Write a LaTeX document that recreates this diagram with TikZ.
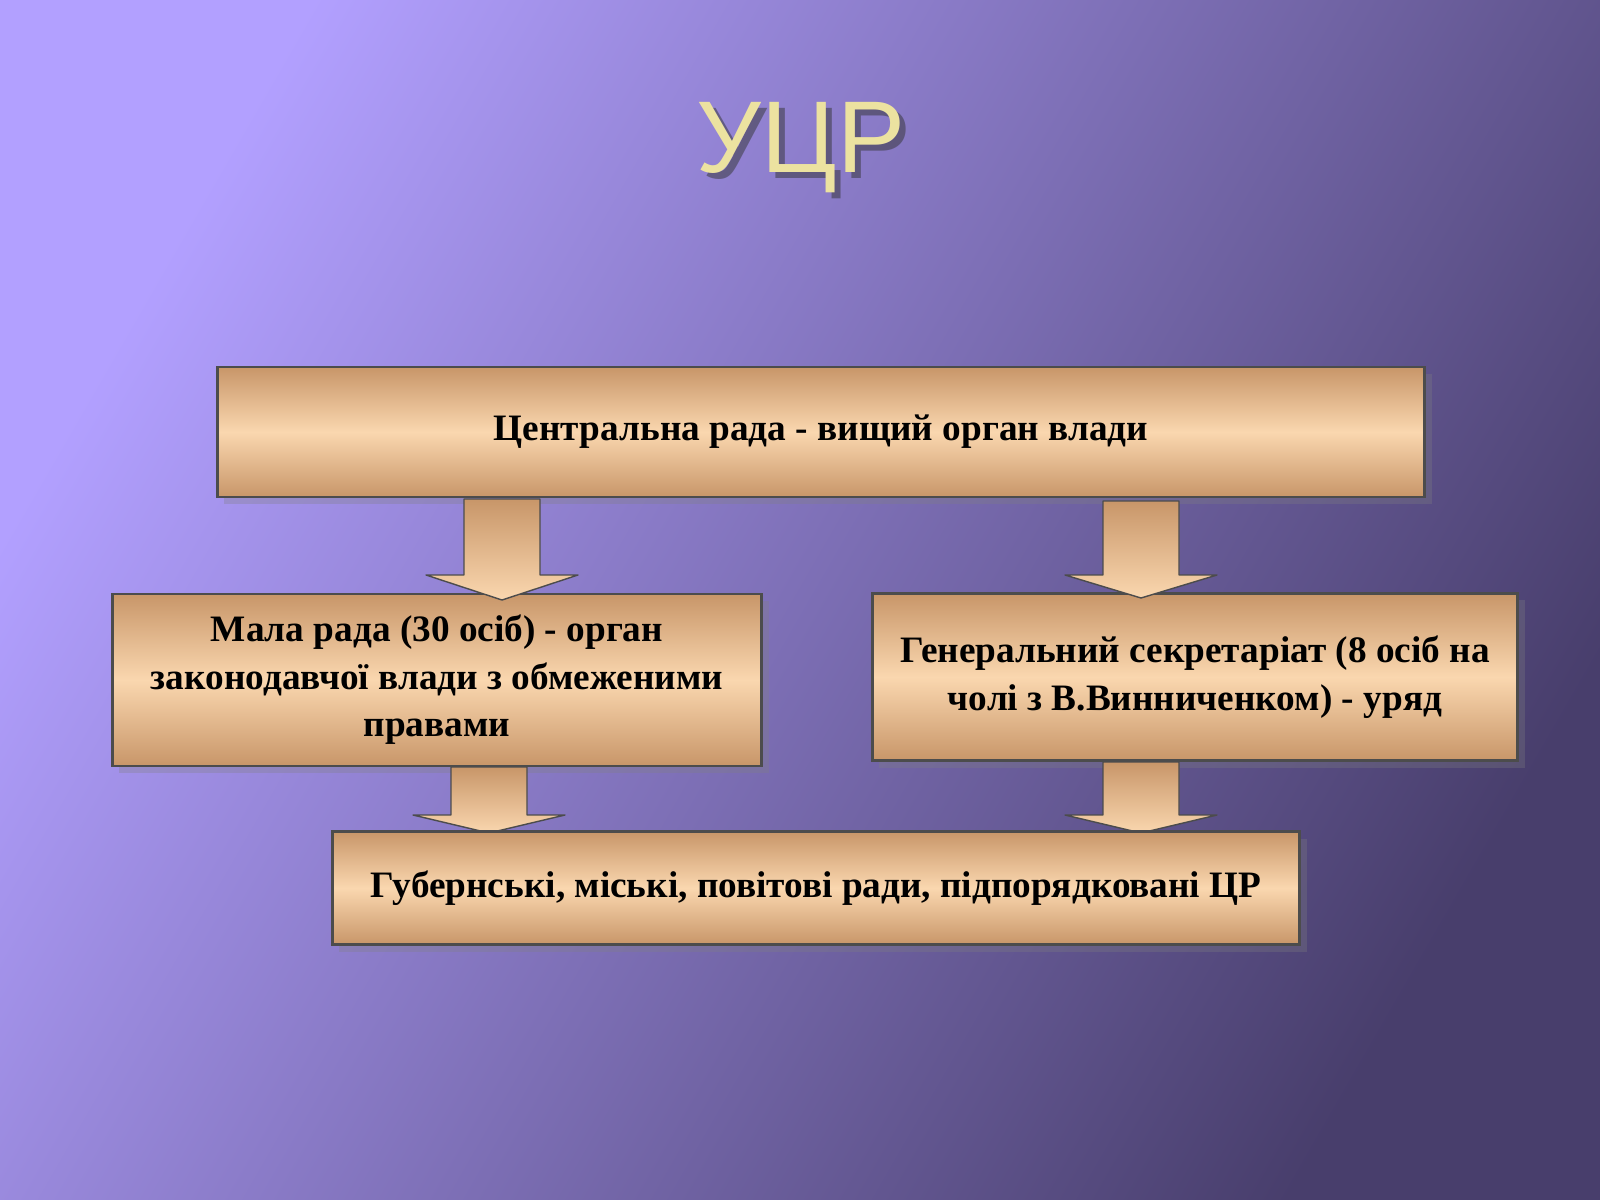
\documentclass[tikz,border=0pt]{standalone}
\usepackage{fontspec}
\setmainfont{Liberation Serif}
\newfontfamily\titlefont{Liberation Sans}
\usetikzlibrary{shadows}
\definecolor{bgA}{RGB}{178,160,255}
\definecolor{bgB}{RGB}{72,62,108}
\definecolor{tanA}{RGB}{200,150,105}
\definecolor{tanB}{RGB}{250,215,175}
\definecolor{gold}{RGB}{236,226,160}
\newcommand{\blockarrow}[4]{% x-center, y-top, y-neck, y-tip
  \shade[top color=tanA,bottom color=tanB,draw=black!70,line join=round]
    ({#1-38},#2) -- ({#1+38},#2) -- ({#1+38},#3) -- ({#1+76},#3)
    -- (#1,#4) -- ({#1-76},#3) -- ({#1-38},#3) -- cycle;}
\begin{document}
\begin{tikzpicture}[x=0.01cm,y=-0.01cm,
  box/.style={draw=black!70,thick,top color=tanA,bottom color=tanA,middle color=tanB,
    shading angle=0,drop shadow={shadow xshift=2pt,shadow yshift=-2pt,opacity=0.3},
    align=center,font=\bfseries\fontsize{10.6}{13.5}\selectfont,inner sep=0pt},
  titletext/.style={font=\titlefont\fontsize{29}{30}\selectfont}]
\shade[left color=bgA,right color=bgB,shading angle=60] (0,0) rectangle (1600,1200);
\useasboundingbox (0,0) rectangle (1600,1200);
% title
\node (titleshadow) [titletext,text=black!80,opacity=0.5] at (807,154) {УЦР};
\node (title) [titletext,text=gold] at (801,148) {УЦР};
% boxes
\node (cr) [box,minimum width=12.07cm,minimum height=1.30cm] at (821,432) {Центральна рада - вищий орган влади};
\node (mr) [box,minimum width=6.49cm,minimum height=1.72cm] at (437,680) {Мала рада (30 осіб) - орган\\законодавчої влади з обмеженими\\правами};
\node (gs) [box,minimum width=6.45cm,minimum height=1.67cm] at (1195,677) {Генеральний секретаріат (8 осіб на\\чолі з В.Винниченком) - уряд};
% arrows
\blockarrow{502}{499}{575}{600}
\blockarrow{1141}{501}{575}{598}
\blockarrow{489}{767}{815}{833}
\blockarrow{1141}{762}{815}{833}
\node (gr) [box,minimum width=9.67cm,minimum height=1.13cm] at (816,888) {Губернські, міські, повітові ради, підпорядковані ЦР};
\end{tikzpicture}
\end{document}
